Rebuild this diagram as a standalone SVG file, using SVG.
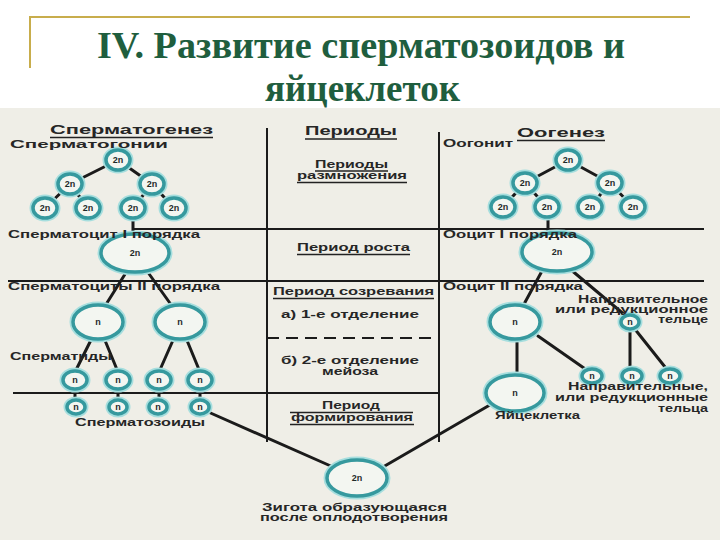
<svg xmlns="http://www.w3.org/2000/svg" width="720" height="540" viewBox="0 0 720 540">
<style>
.glow{fill:none;stroke:#a6dede;stroke-width:7}
.ring{fill:#f3f6f1;stroke:#36999e;stroke-width:3.5}
.ln{stroke:#1b1b1b;stroke-width:3;fill:none;stroke-linecap:round}
.dv{stroke:#1b1b1b;stroke-width:2;fill:none}
.ul{stroke:#222;stroke-width:1.4}
.lbl{font-family:"Liberation Sans",Arial,sans-serif;font-weight:bold;font-size:10px;fill:#262626}
.hd{font-size:12px}
.ct{font-family:"Liberation Sans",Arial,sans-serif;font-weight:bold;font-size:9px;fill:#1e2a2a;text-anchor:middle}
.title{font-family:"Liberation Serif","Times New Roman",serif;font-weight:bold;font-size:38px;fill:#1f5e3e}
</style>
<rect x="0" y="0" width="720" height="540" fill="#ffffff"/>
<rect x="0" y="108" width="720" height="432" fill="#efeee7"/>
<g id="frame" stroke="#c8ad4c" stroke-width="2" fill="none">
<path d="M30 68 V17 H690"/>
</g>
<g id="title">
<text class="title" x="97" y="58" textLength="528" lengthAdjust="spacingAndGlyphs">IV. Развитие сперматозоидов и</text>
<text class="title" x="265" y="101" textLength="195" lengthAdjust="spacingAndGlyphs">яйцеклеток</text>
</g>

<g id="dividers">
<line class="dv" x1="133" y1="229" x2="704" y2="229"/>
<line class="dv" x1="8" y1="281" x2="704" y2="281"/>
<line class="dv" x1="13" y1="393" x2="439" y2="393"/>
<line class="dv" x1="267" y1="128" x2="267" y2="442"/>
<line class="dv" x1="439" y1="132" x2="439" y2="442"/>
<line class="dv" x1="267" y1="338" x2="439" y2="338" stroke-dasharray="12 7" stroke-width="1.8"/>
</g>

<g id="connectors">
<path class="ln" d="M118 160 L70 184 M118 160 L152 184 M70 184 L45 208 M70 184 L88 208 M152 184 L133 208 M152 184 L174 208 M133 208 V236"/>
<path class="ln" d="M127 271 L105 306 M147 271 L172 306"/>
<path class="ln" d="M92 338 L75 372 M104 338 L118 372 M174 338 L159 372 M186 338 L200 372"/>
<path class="ln" d="M75 380 V407 M118 380 V407 M159 380 V407 M200 380 V407"/>
<path class="ln" d="M206 411 L333 467 M495 402 L383 467"/>
<path class="ln" d="M568 160 L525 183 M568 160 L610 183 M525 183 L503 207 M525 183 L547 207 M610 183 L590 207 M610 183 L633 207 M548 207 V232"/>
<path class="ln" d="M542 271 L523 306 M570 269 L626 316"/>
<path class="ln" d="M517 338 V376 M538 336 L591 373"/>
<path class="ln" d="M630 322 V370 M634 328 L669 372"/>
</g>

<g id="spermatogonia">
<g id="sg1"><ellipse class="glow" cx="118" cy="160" rx="12" ry="10"/><ellipse class="ring" cx="118" cy="160" rx="12" ry="10"/><text class="ct" x="118" y="163">2n</text></g>
<g id="sg2"><ellipse class="glow" cx="70" cy="184" rx="12" ry="10"/><ellipse class="ring" cx="70" cy="184" rx="12" ry="10"/><text class="ct" x="70" y="187">2n</text></g>
<g id="sg3"><ellipse class="glow" cx="152" cy="184" rx="12" ry="10"/><ellipse class="ring" cx="152" cy="184" rx="12" ry="10"/><text class="ct" x="152" y="187">2n</text></g>
<g id="sg4"><ellipse class="glow" cx="45" cy="208" rx="12" ry="10"/><ellipse class="ring" cx="45" cy="208" rx="12" ry="10"/><text class="ct" x="45" y="211">2n</text></g>
<g id="sg5"><ellipse class="glow" cx="88" cy="208" rx="12" ry="10"/><ellipse class="ring" cx="88" cy="208" rx="12" ry="10"/><text class="ct" x="88" y="211">2n</text></g>
<g id="sg6"><ellipse class="glow" cx="133" cy="208" rx="12" ry="10"/><ellipse class="ring" cx="133" cy="208" rx="12" ry="10"/><text class="ct" x="133" y="211">2n</text></g>
<g id="sg7"><ellipse class="glow" cx="174" cy="208" rx="12" ry="10"/><ellipse class="ring" cx="174" cy="208" rx="12" ry="10"/><text class="ct" x="174" y="211">2n</text></g>
</g>

<g id="spermatocyte1"><ellipse class="glow" cx="135" cy="253" rx="34" ry="19"/><ellipse class="ring" cx="135" cy="253" rx="34" ry="19"/><text class="ct" x="135" y="256">2n</text></g>
<g id="spermatocyte2a"><ellipse class="glow" cx="98" cy="322" rx="25" ry="17"/><ellipse class="ring" cx="98" cy="322" rx="25" ry="17"/><text class="ct" x="98" y="325">n</text></g>
<g id="spermatocyte2b"><ellipse class="glow" cx="180" cy="322" rx="25" ry="17"/><ellipse class="ring" cx="180" cy="322" rx="25" ry="17"/><text class="ct" x="180" y="325">n</text></g>

<g id="spermatids">
<g id="st1"><ellipse class="glow" cx="75" cy="380" rx="12" ry="9"/><ellipse class="ring" cx="75" cy="380" rx="12" ry="9"/><text class="ct" x="75" y="383">n</text></g>
<g id="st2"><ellipse class="glow" cx="118" cy="380" rx="12" ry="9"/><ellipse class="ring" cx="118" cy="380" rx="12" ry="9"/><text class="ct" x="118" y="383">n</text></g>
<g id="st3"><ellipse class="glow" cx="159" cy="380" rx="12" ry="9"/><ellipse class="ring" cx="159" cy="380" rx="12" ry="9"/><text class="ct" x="159" y="383">n</text></g>
<g id="st4"><ellipse class="glow" cx="200" cy="380" rx="12" ry="9"/><ellipse class="ring" cx="200" cy="380" rx="12" ry="9"/><text class="ct" x="200" y="383">n</text></g>
</g>
<g id="spermatozoa">
<g id="sz1"><ellipse class="glow" cx="76" cy="407" rx="9" ry="7"/><ellipse class="ring" cx="76" cy="407" rx="9" ry="7" stroke="#2a8a90"/><text class="ct" x="76" y="410" font-size="8">n</text></g>
<g id="sz2"><ellipse class="glow" cx="118" cy="407" rx="9" ry="7"/><ellipse class="ring" cx="118" cy="407" rx="9" ry="7" stroke="#2a8a90"/><text class="ct" x="118" y="410" font-size="8">n</text></g>
<g id="sz3"><ellipse class="glow" cx="158" cy="407" rx="9" ry="7"/><ellipse class="ring" cx="158" cy="407" rx="9" ry="7" stroke="#2a8a90"/><text class="ct" x="158" y="410" font-size="8">n</text></g>
<g id="sz4"><ellipse class="glow" cx="200" cy="407" rx="9" ry="7"/><ellipse class="ring" cx="200" cy="407" rx="9" ry="7" stroke="#2a8a90"/><text class="ct" x="200" y="410" font-size="8">n</text></g>
</g>

<g id="oogonia">
<g id="og1"><ellipse class="glow" cx="568" cy="160" rx="12" ry="10"/><ellipse class="ring" cx="568" cy="160" rx="12" ry="10"/><text class="ct" x="568" y="163">2n</text></g>
<g id="og2"><ellipse class="glow" cx="525" cy="183" rx="12" ry="10"/><ellipse class="ring" cx="525" cy="183" rx="12" ry="10"/><text class="ct" x="525" y="186">2n</text></g>
<g id="og3"><ellipse class="glow" cx="610" cy="183" rx="12" ry="10"/><ellipse class="ring" cx="610" cy="183" rx="12" ry="10"/><text class="ct" x="610" y="186">2n</text></g>
<g id="og4"><ellipse class="glow" cx="503" cy="207" rx="12" ry="10"/><ellipse class="ring" cx="503" cy="207" rx="12" ry="10"/><text class="ct" x="503" y="210">2n</text></g>
<g id="og5"><ellipse class="glow" cx="547" cy="207" rx="12" ry="10"/><ellipse class="ring" cx="547" cy="207" rx="12" ry="10"/><text class="ct" x="547" y="210">2n</text></g>
<g id="og6"><ellipse class="glow" cx="590" cy="207" rx="12" ry="10"/><ellipse class="ring" cx="590" cy="207" rx="12" ry="10"/><text class="ct" x="590" y="210">2n</text></g>
<g id="og7"><ellipse class="glow" cx="633" cy="207" rx="12" ry="10"/><ellipse class="ring" cx="633" cy="207" rx="12" ry="10"/><text class="ct" x="633" y="210">2n</text></g>
</g>

<g id="oocyte1"><ellipse class="glow" cx="557" cy="252" rx="35" ry="19"/><ellipse class="ring" cx="557" cy="252" rx="35" ry="19"/><text class="ct" x="557" y="255">2n</text></g>
<g id="oocyte2"><ellipse class="glow" cx="515" cy="322" rx="25" ry="17"/><ellipse class="ring" cx="515" cy="322" rx="25" ry="17"/><text class="ct" x="515" y="325">n</text></g>
<g id="polar1"><ellipse class="glow" cx="630" cy="322" rx="9" ry="7"/><ellipse class="ring" cx="630" cy="322" rx="9" ry="7" stroke="#2a8a90"/><text class="ct" x="630" y="325" font-size="8">n</text></g>
<g id="egg"><ellipse class="glow" cx="515" cy="393" rx="29" ry="18"/><ellipse class="ring" cx="515" cy="393" rx="29" ry="18"/><text class="ct" x="515" y="396">n</text></g>
<g id="polar2"><ellipse class="glow" cx="592" cy="376" rx="10" ry="7"/><ellipse class="ring" cx="592" cy="376" rx="10" ry="7" stroke="#2a8a90"/><text class="ct" x="592" y="379" font-size="8">n</text></g>
<g id="polar3"><ellipse class="glow" cx="632" cy="376" rx="10" ry="7"/><ellipse class="ring" cx="632" cy="376" rx="10" ry="7" stroke="#2a8a90"/><text class="ct" x="632" y="379" font-size="8">n</text></g>
<g id="polar4"><ellipse class="glow" cx="670" cy="376" rx="10" ry="7"/><ellipse class="ring" cx="670" cy="376" rx="10" ry="7" stroke="#2a8a90"/><text class="ct" x="670" y="379" font-size="8">n</text></g>
<g id="zygote"><ellipse class="glow" cx="357" cy="478" rx="30" ry="18"/><ellipse class="ring" cx="357" cy="478" rx="30" ry="18"/><text class="ct" x="357" y="481">2n</text></g>

<g id="labels-left">
<text class="lbl hd" x="50" y="134" textLength="163" lengthAdjust="spacingAndGlyphs">Сперматогенез</text>
<line class="ul" x1="50" y1="137.5" x2="213" y2="137.5"/>
<text class="lbl" x="10" y="148" textLength="158" lengthAdjust="spacingAndGlyphs">Сперматогонии</text>
<text class="lbl" x="8" y="238" textLength="192" lengthAdjust="spacingAndGlyphs">Сперматоцит I порядка</text>
<text class="lbl" x="8" y="290" textLength="212" lengthAdjust="spacingAndGlyphs">Сперматоциты II порядка</text>
<text class="lbl" x="10" y="360" textLength="102" lengthAdjust="spacingAndGlyphs">Сперматиды</text>
<text class="lbl" x="75" y="426" textLength="130" lengthAdjust="spacingAndGlyphs">Сперматозоиды</text>
</g>

<g id="labels-mid">
<text class="lbl hd" x="305" y="135" textLength="92" lengthAdjust="spacingAndGlyphs">Периоды</text>
<line class="ul" x1="305" y1="139" x2="397" y2="139"/>
<text class="lbl" x="315" y="168" textLength="73" lengthAdjust="spacingAndGlyphs">Периоды</text>
<line class="ul" x1="315" y1="171" x2="388" y2="171"/>
<text class="lbl" x="297" y="179" textLength="110" lengthAdjust="spacingAndGlyphs">размножения</text>
<line class="ul" x1="297" y1="182.5" x2="407" y2="182.5"/>
<text class="lbl" x="297" y="251" textLength="113" lengthAdjust="spacingAndGlyphs">Период роста</text>
<line class="ul" x1="297" y1="254.5" x2="410" y2="254.5"/>
<text class="lbl" x="273" y="295" textLength="161" lengthAdjust="spacingAndGlyphs">Период созревания</text>
<line class="ul" x1="273" y1="298.5" x2="434" y2="298.5"/>
<text class="lbl" x="281" y="318" textLength="138" lengthAdjust="spacingAndGlyphs">а) 1-е отделение</text>
<text class="lbl" x="281" y="364" textLength="138" lengthAdjust="spacingAndGlyphs">б) 2-е отделение</text>
<text class="lbl" x="322" y="375" textLength="56" lengthAdjust="spacingAndGlyphs">мейоза</text>
<text class="lbl" x="322" y="409" textLength="58" lengthAdjust="spacingAndGlyphs">Период</text>
<line class="ul" x1="290" y1="412.5" x2="413" y2="412.5"/>
<text class="lbl" x="291" y="421" textLength="122" lengthAdjust="spacingAndGlyphs">формирования</text>
<line class="ul" x1="290" y1="424.5" x2="414" y2="424.5"/>
<text class="lbl" x="262" y="511" textLength="185" lengthAdjust="spacingAndGlyphs">Зигота образующаяся</text>
<text class="lbl" x="260" y="521" textLength="188" lengthAdjust="spacingAndGlyphs">после оплодотворения</text>
</g>

<g id="labels-right">
<text class="lbl hd" x="517" y="137" textLength="88" lengthAdjust="spacingAndGlyphs">Оогенез</text>
<line class="ul" x1="517" y1="140.5" x2="605" y2="140.5"/>
<text class="lbl" x="443" y="147" textLength="70" lengthAdjust="spacingAndGlyphs">Оогонит</text>
<text class="lbl" x="443" y="238" textLength="134" lengthAdjust="spacingAndGlyphs">Ооцит I порядка</text>
<text class="lbl" x="443" y="290" textLength="140" lengthAdjust="spacingAndGlyphs">Ооцит II порядка</text>
<text class="lbl" x="578" y="303" textLength="130" lengthAdjust="spacingAndGlyphs">Направительное</text>
<text class="lbl" x="555" y="313" textLength="153" lengthAdjust="spacingAndGlyphs">или редукционное</text>
<text class="lbl" x="658" y="323" textLength="50" lengthAdjust="spacingAndGlyphs">тельце</text>
<text class="lbl" x="568" y="390" textLength="140" lengthAdjust="spacingAndGlyphs">Направительные,</text>
<text class="lbl" x="555" y="401" textLength="153" lengthAdjust="spacingAndGlyphs">или редукционные</text>
<text class="lbl" x="658" y="412" textLength="50" lengthAdjust="spacingAndGlyphs">тельца</text>
<text class="lbl" x="495" y="419" textLength="85" lengthAdjust="spacingAndGlyphs">Яйцеклетка</text>
</g>
</svg>
